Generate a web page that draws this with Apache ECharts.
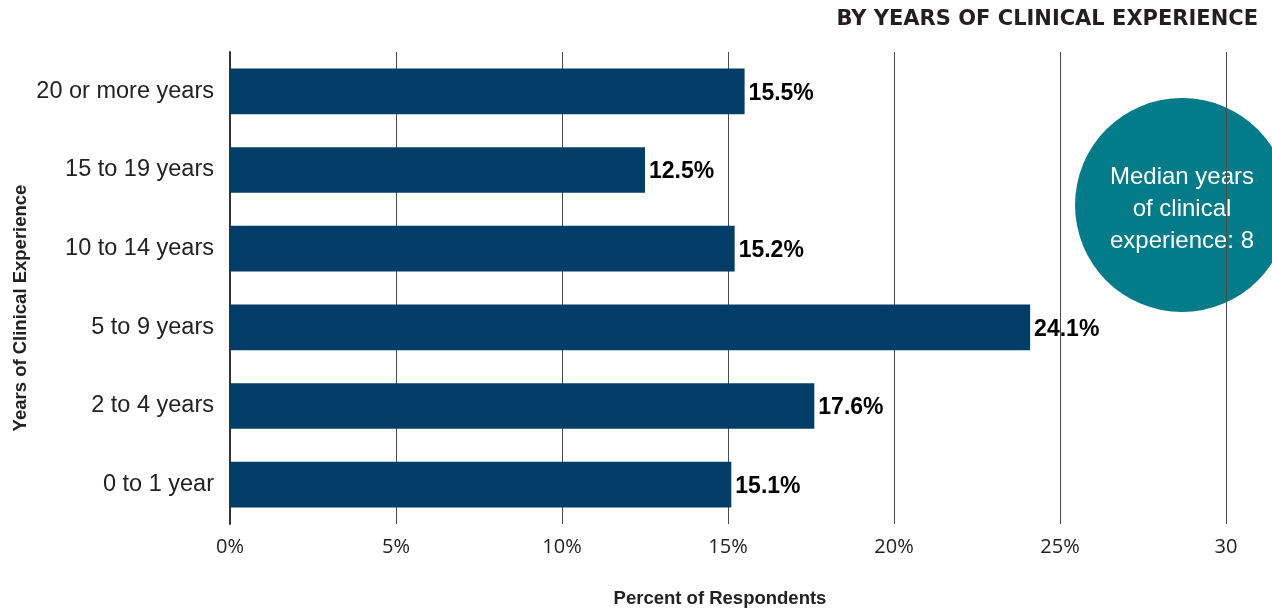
<!DOCTYPE html>
<html>
<head>
<meta charset="utf-8">
<script src="https://cdn.jsdelivr.net/npm/echarts@6/dist/echarts.min.js"></script>
<style>
  html, body { margin: 0; padding: 0; background: #ffffff; }
  #chart { width: 1272px; height: 610px; }
</style>
</head>
<body>
<div id="chart"></div>
<script>
// Share of respondents by years of clinical experience
const categories = ['0 to 1 year', '2 to 4 years', '5 to 9 years', '10 to 14 years', '15 to 19 years', '20 or more years'];
const percents = [15.1, 17.6, 24.1, 15.2, 12.5, 15.5];
const tickLabels = { 0: '0%', 5: '5%', 10: '10%', 15: '15%', 20: '20%', 25: '25%', 30: '30' };

const chart = echarts.init(document.getElementById('chart'));

chart.setOption({
  animation: false,
  title: {
    text: 'BY YEARS OF CLINICAL EXPERIENCE',
    right: 9,
    top: 4,
    textStyle: {
      fontFamily: '"DejaVu Sans", sans-serif',
      fontSize: 21,
      fontWeight: 'bold',
      color: '#231f20'
    }
  },
  grid: { left: 230, right: 46, top: 52, bottom: 86, outerBoundsMode: 'none' },
  xAxis: {
    type: 'value',
    min: 0,
    max: 30,
    interval: 5,
    name: 'Percent of Respondents',
    nameLocation: 'middle',
    nameGap: 65,
    nameTextStyle: {
      fontFamily: '"Liberation Sans", Arial, sans-serif',
      fontSize: 18.5,
      fontWeight: 'bold',
      color: '#222',
      padding: [0, 16, 0, 0]
    },
    axisLine: { show: false },
    axisTick: { show: false },
    axisLabel: {
      margin: 13,
      fontFamily: '"Open Sans", sans-serif',
      fontSize: 20,
      color: '#222',
      formatter: v => tickLabels[v] ?? ''
    },
    splitLine: { show: true, lineStyle: { color: '#4a4a4a', width: 1 } }
  },
  yAxis: {
    type: 'category',
    data: categories,
    name: 'Years of Clinical Experience',
    nameLocation: 'middle',
    nameGap: 200,
    nameMoveOverlap: false,
    nameRotate: 90,
    nameTextStyle: {
      fontFamily: '"Liberation Sans", Arial, sans-serif',
      fontSize: 18.5,
      fontWeight: 'bold',
      color: '#222',
      padding: [0, 40, 0, 0]
    },
    axisLine: { show: true, lineStyle: { color: '#333', width: 2 } },
    axisTick: { show: false },
    axisLabel: {
      margin: 16,
      fontFamily: '"Liberation Sans", Arial, sans-serif',
      fontSize: 23.5,
      color: '#222'
    }
  },
  series: [{
    type: 'bar',
    data: percents,
    barCategoryGap: '42%',
    itemStyle: { color: '#013d66' },
    label: {
      show: true,
      position: 'right',
      distance: 4,
      offset: [0, 2],
      formatter: p => p.value.toFixed(1) + '%',
      fontFamily: '"Liberation Sans", Arial, sans-serif',
      fontSize: 23,
      fontWeight: 'bold',
      color: '#000'
    }
  }],
  graphic: [{
    type: 'group',
    left: 1075,
    top: 98,
    children: [{
      type: 'circle',
      shape: { cx: 107, cy: 107, r: 107 },
      style: { fill: '#037b88' }
    }, {
      type: 'text',
      x: 107,
      y: 111,
      style: {
        text: 'Median years\nof clinical\nexperience: 8',
        fill: '#ffffff',
        fontFamily: '"Liberation Sans", Arial, sans-serif',
        fontSize: 24,
        lineHeight: 32,
        align: 'center',
        verticalAlign: 'middle'
      }
    }]
  }]
});
</script>
</body>
</html>
